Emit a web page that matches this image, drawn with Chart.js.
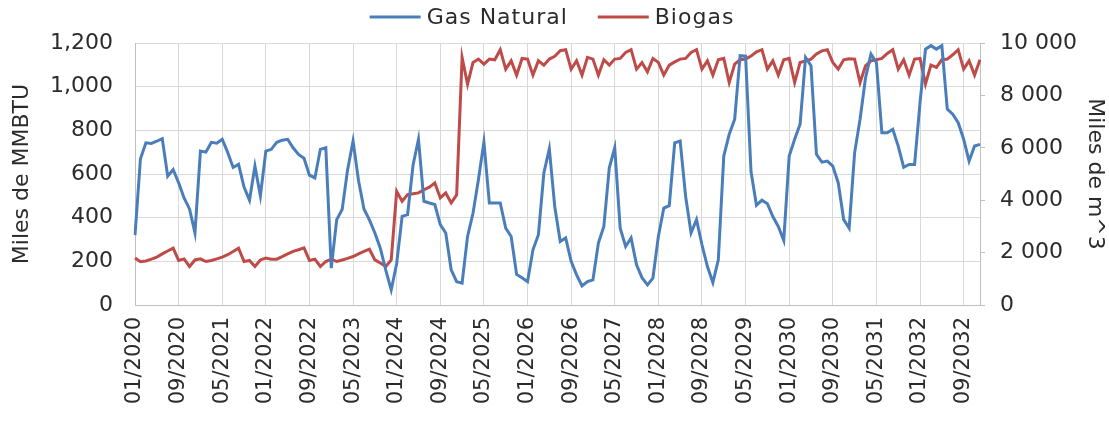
<!DOCTYPE html>
<html>
<head>
<meta charset="utf-8">
<script src="https://cdn.jsdelivr.net/npm/chart.js@4.4.1/dist/chart.umd.min.js"></script>
<style>
  html, body { margin: 0; padding: 0; background: #fff; }
  #caja { width: 1109px; height: 424px; }
</style>
</head>
<body>
<div id="caja"><canvas id="grafico" width="1109" height="424"></canvas></div>
<script>
// Meses 01/2020 - 12/2032
const anioInicio = 2020;
const anioFin = 2032;
const meses = [];
for (let a = anioInicio; a <= anioFin; a++) {
    for (let m = 1; m <= 12; m++) {
        meses.push(String(m).padStart(2, '0') + '/' + a);
    }
}

// Gas Natural (Miles de MMBTU), un valor por mes
const gasNatural = [
    320, 670, 743, 740, 750, 762, 590, 620, 560, 490, 440, 330,      // 2020
    705, 700, 745, 741, 759, 699, 630, 644, 540, 480, 636, 500,      // 2021
    705, 713, 745, 755, 759, 720, 690, 672, 595, 582, 713, 720,      // 2022
    169, 391, 437, 620, 751, 570, 440, 390, 330, 260, 160, 69,       // 2023
    190, 406, 414, 640, 759, 475, 467, 460, 368, 330, 161, 107,      // 2024
    100, 314, 420, 575, 746, 467, 467, 467, 352, 314, 140, 125,      // 2025
    107, 253, 322, 605, 716, 450, 291, 307, 200, 138, 87, 107,       // 2026
    115, 284, 360, 628, 720, 352, 268, 307, 184, 125, 92, 123,       // 2027
    314, 444, 455, 743, 751, 498, 330, 391, 276, 176, 103, 207,      // 2028
    682, 782, 851, 1142, 1140, 610, 457, 480, 464, 405, 360, 296,    // 2029
    682, 759, 828, 1134, 1096, 690, 654, 659, 636, 559, 391, 352,    // 2030
    697, 851, 1040, 1149, 1111, 789, 789, 805, 728, 631, 644, 644,   // 2031
    927, 1172, 1188, 1172, 1188, 897, 874, 835, 759, 659, 728, 736   // 2032
];

// Biogas (Miles de m^3), un valor por mes
const biogas = [
    1790, 1650, 1680, 1750, 1830, 1950, 2060, 2170, 1700, 1760, 1470, 1720,   // 2020
    1760, 1660, 1700, 1760, 1830, 1920, 2040, 2170, 1660, 1700, 1470, 1720,   // 2021
    1790, 1750, 1750, 1850, 1950, 2050, 2110, 2180, 1700, 1750, 1470, 1660,   // 2022
    1750, 1660, 1720, 1780, 1850, 1950, 2050, 2130, 1724, 1600, 1470, 1724,   // 2023
    4340, 3960, 4214, 4250, 4280, 4400, 4500, 4661, 4086, 4278, 3895, 4200,   // 2024
    9450, 8428, 9258, 9386, 9194, 9386, 9360, 9744, 9003, 9320, 8773, 9411,   // 2025
    9386, 8773, 9320, 9155, 9386, 9490, 9705, 9744, 9003, 9320, 8773, 9450,   // 2026
    9386, 8773, 9360, 9155, 9386, 9411, 9640, 9744, 9003, 9250, 8900, 9410,   // 2027
    9260, 8773, 9155, 9280, 9386, 9411, 9640, 9744, 9003, 9320, 8773, 9360,   // 2028
    9411, 8490, 9194, 9360, 9386, 9500, 9667, 9744, 9003, 9320, 8773, 9360,   // 2029
    9411, 8490, 9258, 9320, 9386, 9580, 9700, 9744, 9258, 9003, 9360, 9400,   // 2030
    9386, 8490, 9130, 9320, 9360, 9411, 9600, 9744, 9003, 9360, 8773, 9386,   // 2031
    9411, 8430, 9155, 9067, 9360, 9386, 9550, 9744, 9003, 9320, 8773, 9360    // 2032
];

// Marcas de los ejes
const ticksIzq = [0, 200, 400, 600, 800, 1000, 1200];
const ticksDer = [0, 2000, 4000, 6000, 8000, 10000];
const cadaEtiqueta = 8; // una etiqueta cada 8 meses

const azul = '#4A7EBB';
const rojo = '#BE4B48';
const rejilla = '#d9d9d9';
const borde = '#bfbfbf';
const texto = '#2b2b2b';
const fuente = "'Century Gothic', 'DejaVu Sans', sans-serif";

Chart.defaults.font.family = fuente;
Chart.defaults.color = texto;

// Leyenda dibujada arriba (linea + texto)
const leyenda = {
    id: 'leyenda',
    afterDraw(chart) {
        const c = chart.ctx;
        const sets = chart.data.datasets;
        const largo = 51, sep = 6, entre = 30, yy = 17, centro = 552;
        c.save();
        c.font = '22px ' + fuente;
        c.letterSpacing = '1px';
        const anchos = sets.map(d => c.measureText(d.label).width);
        let total = 0;
        anchos.forEach((w, i) => { total += largo + sep + w + (i ? entre : 0); });
        let x = centro - total / 2;
        sets.forEach((d, i) => {
            c.strokeStyle = d.borderColor;
            c.lineWidth = 3;
            c.beginPath();
            c.moveTo(x, yy);
            c.lineTo(x + largo, yy);
            c.stroke();
            x += largo + sep;
            c.fillStyle = texto;
            c.textBaseline = 'middle';
            c.textAlign = 'left';
            c.fillText(d.label, x, yy + 1);
            x += anchos[i] + entre;
        });
        c.restore();
    }
};

const ctx = document.getElementById('grafico').getContext('2d');
new Chart(ctx, {
    type: 'line',
    data: {
        labels: meses,
        datasets: [
            {
                label: 'Gas Natural',
                data: gasNatural,
                borderColor: azul,
                backgroundColor: azul,
                borderWidth: 3,
                pointRadius: 0,
                tension: 0,
                yAxisID: 'y'
            },
            {
                label: 'Biogas',
                data: biogas,
                borderColor: rojo,
                backgroundColor: rojo,
                borderWidth: 3,
                pointRadius: 0,
                tension: 0,
                yAxisID: 'y2'
            }
        ]
    },
    options: {
        responsive: false,
        animation: false,
        layout: { padding: { top: 43, left: 0, right: 0, bottom: 0 } },
        plugins: {
            legend: { display: false },
            tooltip: { enabled: false }
        },
        scales: {
            x: {
                offset: false,
                grid: {
                    color: c => (c.index % cadaEtiqueta === 0 ? rejilla : 'rgba(0,0,0,0)'),
                    drawTicks: false
                },
                border: { color: borde },
                ticks: {
                    autoSkip: false,
                    minRotation: 90,
                    maxRotation: 90,
                    padding: 12,
                    font: { size: 21 },
                    callback: (v, i) => (i % cadaEtiqueta === 0 ? meses[i] : '')
                },
                afterFit: s => { s.height = 119; }
            },
            y: {
                position: 'left',
                min: 0,
                max: 1200,
                afterBuildTicks: s => { s.ticks = ticksIzq.map(v => ({ value: v })); },
                ticks: {
                    padding: 22,
                    font: { size: 22 },
                    callback: v => v.toLocaleString('en-US')
                },
                grid: { color: rejilla, drawTicks: false },
                border: { color: borde },
                title: {
                    display: true,
                    text: 'Miles de MMBTU',
                    font: { size: 22 },
                    padding: { top: 9, bottom: 0 }
                },
                afterFit: s => { s.width = 135; }
            },
            y2: {
                position: 'right',
                min: 0,
                max: 10000,
                afterBuildTicks: s => { s.ticks = ticksDer.map(v => ({ value: v })); },
                ticks: {
                    padding: 15,
                    font: { size: 22 },
                    callback: v => v.toLocaleString('en-US').replace(/,/g, ' ')
                },
                grid: { drawOnChartArea: false, tickLength: 5, color: borde },
                border: { color: borde },
                title: {
                    display: true,
                    text: 'Miles de m^3',
                    font: { size: 22 },
                    padding: { top: 1, bottom: 0 }
                },
                afterFit: s => { s.width = 129; }
            }
        }
    },
    plugins: [leyenda]
});
</script>
</body>
</html>
